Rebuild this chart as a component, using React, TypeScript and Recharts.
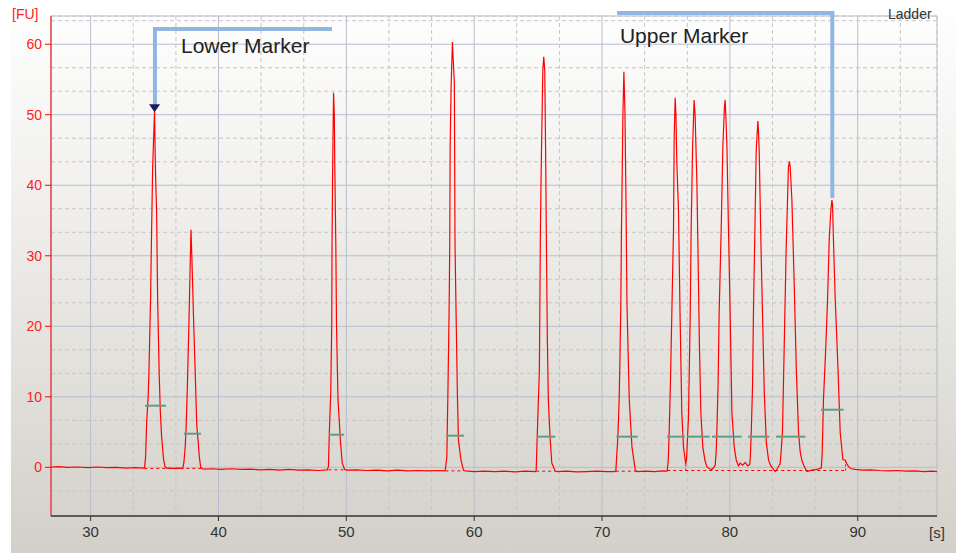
import React from "react";
import {
  LineChart,
  Line,
  XAxis,
  YAxis,
  CartesianGrid,
  ReferenceLine,
  ReferenceDot,
} from "recharts";

type Pt = [number, number]; // [time s, FU]

// baseline stretches between peaks
const baseStart: Pt[] = [
  [26.9, 0.05], [27.5, 0.1], [28.2, 0.0], [29, 0.05], [29.8, -0.05], [30.5, 0.05],
  [31.3, -0.05], [32, 0.0], [32.8, -0.1], [33.5, -0.05], [34.1, -0.1],
];
const baseP1P2: Pt[] = [[36.1, -0.1], [36.5, -0.15], [36.9, -0.1], [37.15, -0.15]];
const baseP2P3: Pt[] = [
  [38.9, -0.25], [39.5, -0.2], [40.2, -0.3], [41, -0.2], [41.8, -0.3], [42.5, -0.25],
  [43.3, -0.35], [44, -0.3], [44.8, -0.4], [45.5, -0.3], [46.3, -0.4], [47, -0.35],
  [47.8, -0.45], [48.5, -0.35],
];
const baseP3P4: Pt[] = [
  [50, -0.4], [50.8, -0.35], [51.6, -0.45], [52.4, -0.4], [53.2, -0.5], [54, -0.4],
  [54.8, -0.5], [55.6, -0.45], [56.4, -0.5], [57.2, -0.45], [57.7, -0.5],
];
const baseP4P5: Pt[] = [
  [59.3, -0.5], [60, -0.6], [60.8, -0.55], [61.6, -0.6], [62.4, -0.55], [63.2, -0.65],
  [64, -0.55], [64.8, -0.6],
];
const baseP5P6: Pt[] = [
  [66.5, -0.6], [67.2, -0.55], [68, -0.65], [68.8, -0.6], [69.6, -0.55], [70.4, -0.6], [71, -0.6],
];
const baseP6P7: Pt[] = [[72.75, -0.6], [73.4, -0.55], [74.1, -0.6], [74.7, -0.5], [75.05, -0.55]];
const baseEnd: Pt[] = [
  [89.8, -0.3], [90.4, -0.4], [91, -0.35], [91.7, -0.45], [92.4, -0.5], [93.1, -0.45],
  [93.8, -0.55], [94.5, -0.5], [95.2, -0.6], [95.8, -0.55], [96.2, -0.6],
];

// peaks, read point by point
const lowerMarkerPeak: Pt[] = [
  [34.22, -0.05], [34.3, 1.5], [34.38, 6.3], [34.5, 10], [34.56, 13.4], [34.69, 24],
  [34.74, 30.4], [34.85, 42.4], [34.95, 48], [35.0, 50.5], [35.05, 44], [35.1, 40],
  [35.16, 36.1], [35.24, 24], [35.36, 13.4], [35.45, 8], [35.55, 4.4], [35.7, 1.2],
  [35.82, 0.1], [35.95, -0.1],
];
const peak2: Pt[] = [
  [37.22, -0.1], [37.3, 0.8], [37.4, 3], [37.46, 5.3], [37.56, 11], [37.69, 20.5],
  [37.79, 29], [37.85, 33.7], [37.88, 32], [37.93, 29], [38.06, 20.5], [38.22, 11],
  [38.3, 6], [38.4, 3.9], [38.5, 1.5], [38.61, 0], [38.75, -0.2],
];
const peak3: Pt[] = [
  [48.6, 0.1], [48.67, 4.9], [48.78, 10.6], [48.86, 20.5], [48.88, 31.1], [48.93, 42.2],
  [49.0, 53.1], [49.06, 50], [49.1, 42.2], [49.18, 31.1], [49.23, 20.5], [49.3, 13.8],
  [49.35, 9.6], [49.53, 3.9], [49.68, 0.6], [49.87, -0.3],
];
const peak4: Pt[] = [
  [57.75, -0.3], [57.86, 1.5], [57.94, 10], [58.04, 22.3], [58.09, 31.8], [58.12, 45.4],
  [58.2, 54.4], [58.3, 60.3], [58.35, 58.2], [58.45, 54.4], [58.5, 31.8], [58.58, 22.3],
  [58.69, 10], [58.77, 3.9], [58.96, 1.1], [59.16, -0.4],
];
const peak5: Pt[] = [
  [64.85, -0.4], [64.98, 7.2], [65.1, 13.8], [65.18, 33.6], [65.26, 44.5], [65.37, 56.3],
  [65.44, 58.2], [65.52, 56.3], [65.6, 42.6], [65.64, 33.6], [65.72, 18.5], [65.8, 9.6],
  [65.93, 4.4], [66.07, 0.6], [66.33, -0.5],
];
const peak6: Pt[] = [
  [71.08, -0.5], [71.24, 4.4], [71.34, 9.6], [71.4, 15.2], [71.47, 23.3], [71.52, 33.7],
  [71.58, 41.7], [71.63, 49.7], [71.71, 56.1], [71.79, 50.5], [71.87, 38.4], [71.95, 23.3],
  [72.13, 9.6], [72.34, 2.9], [72.6, -0.4],
];
const peak7: Pt[] = [
  [75.1, -0.5], [75.18, 1.0], [75.25, 4.9], [75.35, 12], [75.46, 21.9], [75.59, 33.7],
  [75.64, 46.5], [75.72, 52.4], [75.78, 50], [75.85, 43.2], [75.98, 36.5], [76.1, 21.9],
  [76.24, 7.7], [76.37, 2.9], [76.47, 1.5], [76.55, 0.4], [76.62, 1.5],
];
const peak8: Pt[] = [
  [76.68, 4], [76.76, 7], [76.9, 21.9], [76.97, 33.7], [77.08, 45], [77.2, 52.1],
  [77.28, 50], [77.42, 40.3], [77.5, 31.3], [77.62, 17.1], [77.73, 7.7], [77.88, 2.9],
  [78.05, 1.0], [78.2, 0.1], [78.4, -0.2], [78.6, -0.3], [78.78, 0.1],
];
const peak9: Pt[] = [
  [78.85, 0.3], [78.92, 2], [78.98, 4.9], [79.08, 12], [79.16, 21.9], [79.32, 33.7],
  [79.45, 45.5], [79.57, 51], [79.63, 52.1], [79.68, 50], [79.77, 45.5], [79.89, 33.7],
  [80.02, 21.9], [80.16, 7.7], [80.34, 2.9], [80.5, 1.0], [80.67, 0.2], [80.8, 0.6],
  [81.0, 0.3], [81.2, 0.7], [81.4, 0.2], [81.55, 0.4],
];
const peak10: Pt[] = [
  [81.6, 1.5], [81.67, 4.9], [81.77, 11.4], [81.85, 22.8], [81.92, 29.9], [82.06, 45],
  [82.19, 49.1], [82.24, 47.5], [82.29, 45], [82.45, 29.9], [82.58, 19.5], [82.69, 10.6],
  [82.85, 3.5], [83.02, 1.1], [83.2, 0.2], [83.41, -0.3], [83.55, -0.6], [83.7, -0.2],
];
const peak11: Pt[] = [
  [83.93, 0.5], [84.02, 2.5], [84.11, 4.9], [84.27, 19], [84.4, 30.8], [84.58, 42.6],
  [84.66, 43.4], [84.72, 42.5], [84.85, 37.9], [85.03, 26.1], [85.19, 14.3], [85.37, 4.9],
  [85.5, 2.2], [85.63, 1.0], [85.8, 0.2], [86.02, -0.6], [86.4, -0.4], [86.8, -0.3],
];
const upperMarkerPeak: Pt[] = [
  [87.15, -0.1], [87.22, 2], [87.32, 9.6], [87.5, 17], [87.64, 23.8], [87.77, 32.3],
  [87.9, 36.5], [87.98, 37.9], [88.03, 37.2], [88.1, 32.3], [88.24, 23.8], [88.45, 14.3],
  [88.63, 4.9], [88.84, 1.1], [89.02, 1.0], [89.15, 0.5], [89.28, 0.1], [89.5, -0.2],
];

// green peak flags: [from s, to s, FU]
const peakFlags: [number, number, number][] = [
  [34.25, 35.9, 8.74], [37.3, 38.63, 4.77], [48.64, 49.82, 4.63], [57.8, 59.21, 4.49],
  [64.91, 66.34, 4.35], [71.12, 72.79, 4.35], [75.08, 76.47, 4.35], [76.65, 78.42, 4.35],
  [78.6, 80.92, 4.35], [81.42, 83.08, 4.35], [83.61, 85.9, 4.35], [87.13, 88.9, 8.17],
];
// dashed integration baselines: [from s, to s, FU]
const integBaselines: [number, number, number][] = [
  [34.2, 38.65, -0.15], [48.6, 49.85, -0.35], [57.75, 59.2, -0.5],
  [64.85, 66.35, -0.55], [71.08, 72.75, -0.55], [75.1, 89.05, -0.45],
];
const dropLines: Pt[] = [[76.55, 0.4], [89.05, 1.0]];

const xTicks = [30, 40, 50, 60, 70, 80, 90];
const xMinor = [33.33, 36.67, 43.33, 46.67, 53.33, 56.67, 63.33, 66.67, 73.33, 76.67, 83.33, 86.67, 93.33];
const yTicks = [0, 10, 20, 30, 40, 50, 60];
const yMinor = [-3.33, 3.33, 6.67, 13.33, 16.67, 23.33, 26.67, 33.33, 36.67, 43.33, 46.67, 53.33, 56.67, 63.33];

const trace = [
  ...baseStart, ...lowerMarkerPeak, ...baseP1P2, ...peak2, ...baseP2P3, ...peak3,
  ...baseP3P4, ...peak4, ...baseP4P5, ...peak5, ...baseP5P6, ...peak6, ...baseP6P7,
  ...peak7, ...peak8, ...peak9, ...peak10, ...peak11, ...upperMarkerPeak, ...baseEnd,
]
  .sort((a, b) => a[0] - b[0])
  .map(([t, fu]) => ({ t, fu }));

const colors = {
  trace: "#ff0000",
  axisY: "#ff2020",
  flag: "#5e9e86",
  bracket: "#92b6e2",
  gridMajor: "#b6bdce",
  gridMinor: "#c6c6c6",
  text: "#222222",
};
const font = "'Liberation Sans', Arial, sans-serif";

const App: React.FC = () => {
  return (
    <div
      style={{
        position: "absolute",
        left: 0,
        top: 0,
        width: 956,
        height: 553,
        background: "#ffffff",
        fontFamily: font,
      }}
    >
      <div
        style={{
          position: "absolute",
          left: 11,
          top: 0,
          width: 945,
          height: 553,
          background: "linear-gradient(to bottom, #ffffff 0%, #f1f0ed 35%, #d3d0c9 100%)",
        }}
      />
      <div style={{ position: "absolute", left: 0, top: 0 }}>
        <LineChart
          width={956}
          height={553}
          data={trace}
          margin={{ top: 16, right: 19, bottom: 7, left: 11 }}
        >
          <CartesianGrid stroke={colors.gridMajor} />
          <CartesianGrid
            xAxisId="minor"
            yAxisId="minor"
            stroke={colors.gridMinor}
            strokeDasharray="4 3"
          />
          <XAxis
            dataKey="t"
            type="number"
            domain={[26.9, 96.2]}
            ticks={xTicks}
            allowDataOverflow
            height={30}
            tickSize={5}
            tickMargin={5}
            axisLine={{ stroke: "#5a5a5a", strokeWidth: 2 }}
            tickLine={{ stroke: "#333" }}
            tick={{ fill: "#333", fontSize: 15, fontFamily: font }}
          />
          <XAxis
            xAxisId="minor"
            dataKey="t"
            type="number"
            domain={[26.9, 96.2]}
            ticks={xMinor}
            allowDataOverflow
            hide
          />
          <YAxis
            type="number"
            domain={[-6.9, 64]}
            ticks={yTicks}
            allowDataOverflow
            width={40}
            tickSize={6}
            tickMargin={3}
            axisLine={{ stroke: colors.trace }}
            tickLine={{ stroke: colors.trace }}
            tick={{ fill: colors.axisY, fontSize: 14, fontFamily: font }}
          />
          <YAxis
            yAxisId="minor"
            type="number"
            domain={[-6.9, 64]}
            ticks={yMinor}
            allowDataOverflow
            hide
          />

          {integBaselines.map(([a, b, v], i) => (
            <ReferenceLine
              key={`ib${i}`}
              segment={[{ x: a, y: v }, { x: b, y: v }]}
              stroke={colors.trace}
              strokeDasharray="3 3"
            />
          ))}
          {dropLines.map(([t, v], i) => (
            <ReferenceLine
              key={`dl${i}`}
              segment={[{ x: t, y: -0.45 }, { x: t, y: v }]}
              stroke={colors.trace}
              strokeDasharray="2 2"
            />
          ))}

          <Line
            type="linear"
            dataKey="fu"
            stroke={colors.trace}
            strokeWidth={1.2}
            dot={false}
            isAnimationActive={false}
          />

          {peakFlags.map(([a, b, v], i) => (
            <ReferenceLine
              key={`pf${i}`}
              segment={[{ x: a, y: v }, { x: b, y: v }]}
              stroke={colors.flag}
              strokeWidth={2}
            />
          ))}

          {/* Lower marker bracket */}
          <ReferenceLine
            segment={[{ x: 35.03, y: 51.4 }, { x: 35.03, y: 62.3 }]}
            stroke={colors.bracket}
            strokeWidth={4}
            ifOverflow="visible"
          />
          <ReferenceLine
            segment={[{ x: 34.88, y: 62.16 }, { x: 48.88, y: 62.16 }]}
            stroke={colors.bracket}
            strokeWidth={4}
            ifOverflow="visible"
          />
          {/* Upper marker bracket */}
          <ReferenceLine
            segment={[{ x: 71.17, y: 64.43 }, { x: 88.16, y: 64.43 }]}
            stroke={colors.bracket}
            strokeWidth={4}
            ifOverflow="visible"
          />
          <ReferenceLine
            segment={[{ x: 88.01, y: 64.6 }, { x: 88.01, y: 38.19 }]}
            stroke={colors.bracket}
            strokeWidth={4}
            ifOverflow="visible"
          />

          <ReferenceDot
            x={35.0}
            y={51.5}
            r={1}
            ifOverflow="visible"
            shape={(p: any) => (
              <polygon
                points={`${p.cx - 5.5},${p.cy} ${p.cx + 5.5},${p.cy} ${p.cx},${p.cy + 8}`}
                fill="#1c1c60"
              />
            )}
          />
          <ReferenceDot
            x={37.07}
            y={58.75}
            r={1}
            ifOverflow="visible"
            shape={(p: any) => (
              <text x={p.cx} y={p.cy} fontSize={21} fontFamily={font} fill={colors.text}>
                Lower Marker
              </text>
            )}
          />
          <ReferenceDot
            x={71.4}
            y={60.2}
            r={1}
            ifOverflow="visible"
            shape={(p: any) => (
              <text x={p.cx} y={p.cy} fontSize={21} fontFamily={font} fill={colors.text}>
                Upper Marker
              </text>
            )}
          />
        </LineChart>
      </div>
      <div style={{ position: "absolute", left: 12, top: 6, fontSize: 14, color: colors.axisY }}>
        [FU]
      </div>
      <div style={{ position: "absolute", left: 929, top: 524, fontSize: 15, color: "#333" }}>
        [s]
      </div>
      <div style={{ position: "absolute", left: 888, top: 6, fontSize: 14, color: "#333" }}>
        Ladder
      </div>
    </div>
  );
};

export default App;
